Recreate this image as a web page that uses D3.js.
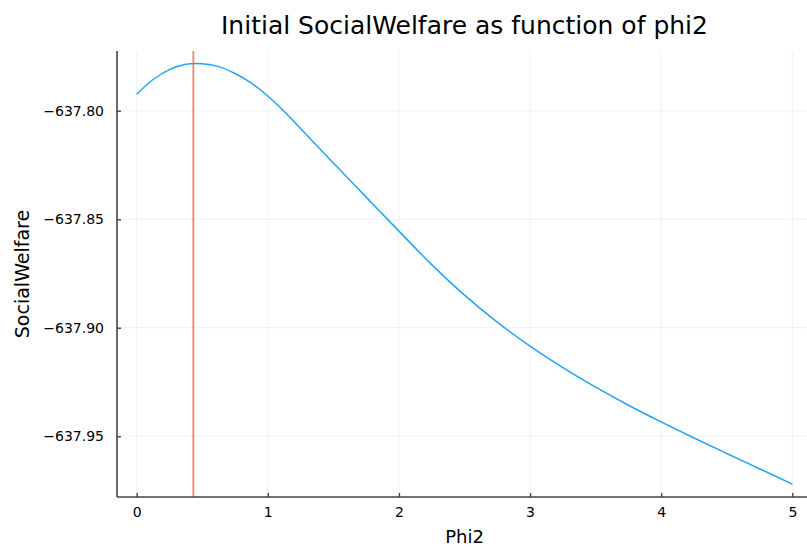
<!DOCTYPE html>
<html>
<head>
<meta charset="utf-8">
<script src="https://cdn.jsdelivr.net/npm/d3@7"></script>
<style>
  body { margin: 0; background: #fff; }
  svg text { font-family: "DejaVu Sans", sans-serif; fill: #000; }
</style>
</head>
<body>
<div id="chart"></div>
<script>
// phi2 values and the welfare
const phi2 = [0, 0.125, 0.25, 0.375, 0.5, 0.625, 0.75, 0.875, 1.0, 1.125, 1.25, 1.5, 1.75, 2.0,
  2.25, 2.5, 2.75, 3.0, 3.25, 3.5, 3.75, 4.0, 4.25, 4.5, 4.75, 5.0];
const welfare = [-637.79244, -637.78561, -637.78105, -637.77860, -637.77837, -637.77966,
  -637.78285, -637.78723, -637.79322, -637.80037, -637.80821, -637.82412, -637.83980,
  -637.85547, -637.87092, -637.88499, -637.89744, -637.90850, -637.91842, -637.92741,
  -637.93571, -637.94341, -637.95079, -637.95794, -637.96499, -637.97205];
const optimum = [0.432];
const xTicks = [0, 1, 2, 3, 4, 5];
const yTicks = [-637.80, -637.85, -637.90, -637.95];

const width = 807, height = 548;
const margin = { top: 51, left: 117, bottom: 51, right: -5 };
const iwidth = width - margin.left - margin.right;
const iheight = height - margin.top - margin.bottom;

const svg = d3.select("#chart").append("svg")
  .attr("width", width)
  .attr("height", height);

const g = svg.append("g").attr("transform", `translate(${margin.left},${margin.top})`);

const x = d3.scaleLinear().domain([-0.15, 5.15]).range([0, iwidth]);
const y = d3.scaleLinear().domain([-637.97800, -637.77247]).range([iheight, 0]);

// grid
g.append("g").selectAll("line").data(xTicks).enter().append("line")
  .attr("x1", d => x(d)).attr("x2", d => x(d))
  .attr("y1", 0).attr("y2", iheight)
  .attr("stroke", "#000").attr("stroke-opacity", 0.1).attr("stroke-width", 0.6);
g.append("g").selectAll("line").data(yTicks).enter().append("line")
  .attr("x1", 0).attr("x2", iwidth)
  .attr("y1", d => y(d)).attr("y2", d => y(d))
  .attr("stroke", "#000").attr("stroke-opacity", 0.1).attr("stroke-width", 0.6);

// curve
const line = d3.line()
  .x((d, i) => x(phi2[i]))
  .y(d => y(d))
  .curve(d3.curveCatmullRom.alpha(0.5));
g.append("path")
  .datum(welfare)
  .attr("fill", "none")
  .attr("stroke", "#1ea4f9")
  .attr("stroke-width", 1.5)
  .attr("d", line);

// vertical line at the maximum
g.selectAll(".vline").data(optimum).enter().append("line")
  .attr("class", "vline")
  .attr("x1", d => x(d)).attr("x2", d => x(d))
  .attr("y1", 0).attr("y2", iheight)
  .attr("stroke", "#e26f46")
  .attr("stroke-opacity", 0.8)
  .attr("stroke-width", 1.8);

// axes
const fmt = d => d3.format(".2f")(d).replace("-", "\u2212");
const xAxis = g.append("g")
  .attr("transform", `translate(0, ${iheight})`)
  .call(d3.axisBottom(x).tickValues(xTicks).tickSize(-4).tickPadding(10).tickFormat(d3.format("d")));
const yAxis = g.append("g")
  .call(d3.axisLeft(y).tickValues(yTicks).tickSize(-4).tickPadding(13).tickFormat(fmt));

[xAxis, yAxis].forEach(a => {
  a.select(".domain").attr("stroke", "#444").attr("stroke-width", 1.6);
  a.selectAll(".tick line").attr("stroke", "#444").attr("stroke-width", 1.4);
  a.selectAll(".tick text").attr("font-size", 14).attr("fill", "#000")
    .attr("font-family", "DejaVu Sans, sans-serif");
});
xAxis.select(".domain").attr("d", `M0,0H${iwidth}`);
yAxis.select(".domain").attr("d", `M0,0V${iheight}`);

// titles
svg.append("text")
  .attr("x", margin.left + iwidth / 2).attr("y", 34)
  .attr("text-anchor", "middle").attr("font-size", 25)
  .text("Initial SocialWelfare as function of phi2");
svg.append("text")
  .attr("x", margin.left + iwidth / 2).attr("y", 543)
  .attr("text-anchor", "middle").attr("font-size", 18)
  .text("Phi2");
svg.append("text")
  .attr("transform", `translate(28.5, ${margin.top + iheight / 2}) rotate(-90)`)
  .attr("text-anchor", "middle").attr("font-size", 19)
  .text("SocialWelfare");
</script>
</body>
</html>
